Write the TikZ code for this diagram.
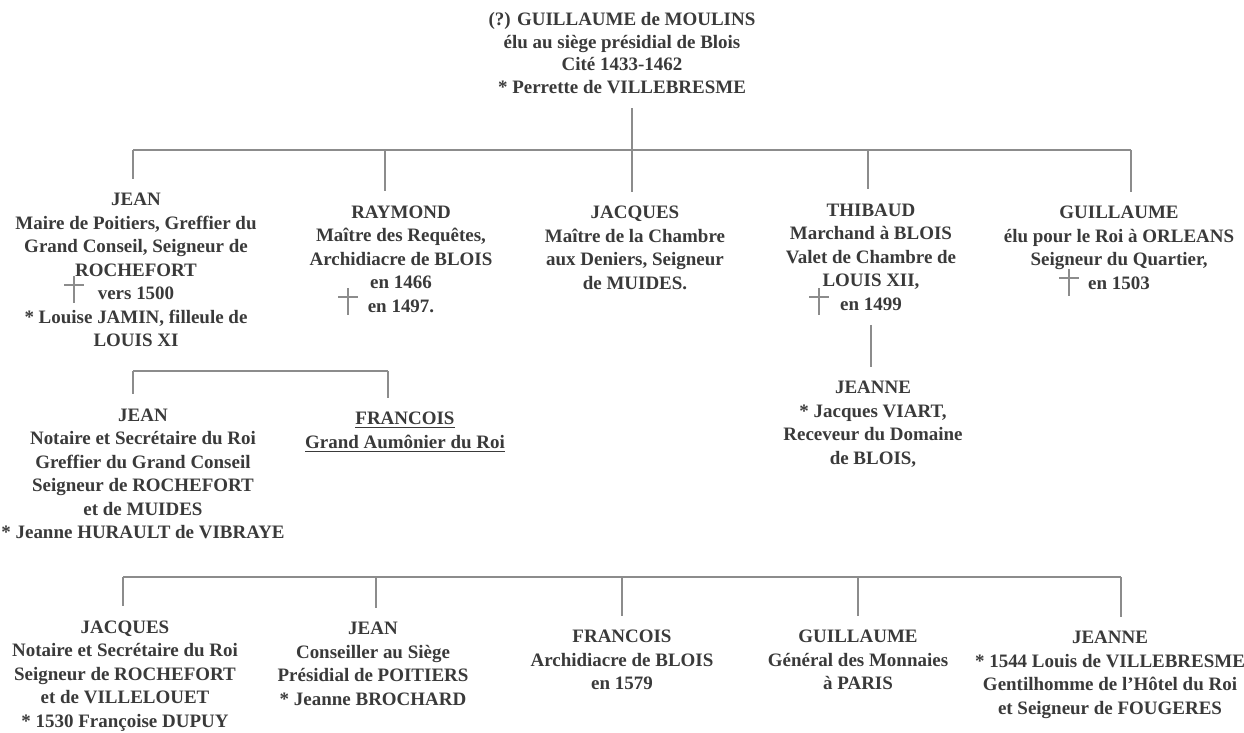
\documentclass[tikz,border=0pt]{standalone}
\usepackage{fontspec}
\setmainfont{Liberation Serif}
\definecolor{encre}{RGB}{58,58,58}
\definecolor{trait}{RGB}{140,140,140}
\tikzset{
  personne/.style={align=center, text=encre, inner xsep=0pt, inner ysep=8pt,
                   font=\bfseries\fontsize{10.8}{13.4}\selectfont},
  lien/.style={draw=trait, line width=0.6pt},
  deces/.pic={\draw[lien] (0,-9) -- (0,18) (-10,0) -- (10,0);}
}

\begin{document}
\begin{tikzpicture}[x=0.02cm, y=-0.02cm]
  \useasboundingbox (0,0) rectangle (1244,733);
  % generation 1
  \node[personne, font=\bfseries\fontsize{10.8}{12.9}\selectfont] (guillaume0) at (622,53)
    {(?) GUILLAUME de MOULINS\\ élu au siège présidial de Blois\\ Cité 1433-1462\\ * Perrette de VILLEBRESME};
  % generation 2
  \node[personne] (jean1) at (136,270)
    {JEAN\\ Maire de Poitiers, Greffier du\\ Grand Conseil, Seigneur de\\ ROCHEFORT\\ vers 1500\\ * Louise JAMIN, filleule de\\ LOUIS XI};
  \node[personne] (raymond) at (401,259)
    {RAYMOND\\ Maître des Requêtes,\\ Archidiacre de BLOIS\\ en 1466\\ en 1497.};
  \node[personne] (jacques1) at (635,248)
    {JACQUES\\ Maître de la Chambre\\ aux Deniers, Seigneur\\ de MUIDES.};
  \node[personne] (thibaud) at (871,257)
    {THIBAUD\\ Marchand à BLOIS\\ Valet de Chambre de\\ LOUIS XII,\\ en 1499};
  \node[personne] (guillaume1) at (1119,248)
    {GUILLAUME\\ élu pour le Roi à ORLEANS\\ Seigneur du Quartier,\\ en 1503};
  \pic at (74,285) {deces};
  \pic at (348,297) {deces};
  \pic at (819,297) {deces};
  \pic at (1069,278) {deces};
  % generation 3
  \node[personne] (jean2) at (143,474)
    {JEAN\\ Notaire et Secrétaire du Roi\\ Greffier du Grand Conseil\\ Seigneur de ROCHEFORT\\ et de MUIDES\\ * Jeanne HURAULT de VIBRAYE};
  \node[personne] (francois1) at (405,432)
    {\underline{FRANCOIS}\\ \underline{Grand Aumônier du Roi}};
  \node[personne] (jeanne1) at (873,424)
    {JEANNE\\ * Jacques VIART,\\ Receveur du Domaine\\ de BLOIS,};
  % generation 4
  \node[personne] (jacques2) at (125,676)
    {JACQUES\\ Notaire et Secrétaire du Roi\\ Seigneur de ROCHEFORT\\ et de VILLELOUET\\ * 1530 Françoise DUPUY};
  \node[personne] (jean3) at (373,664)
    {JEAN\\ Conseiller au Siège\\ Présidial de POITIERS\\ * Jeanne BROCHARD};
  \node[personne] (francois2) at (622,660)
    {FRANCOIS\\ Archidiacre de BLOIS\\ en 1579};
  \node[personne] (guillaume2) at (858,660)
    {GUILLAUME\\ Général des Monnaies\\ à PARIS};
  \node[personne] (jeanne2) at (1110,675)
    {JEANNE\\ * 1544 Louis de VILLEBRESME\\ Gentilhomme de l'Hôtel du Roi\\ et Seigneur de FOUGERES};

  % liens
  \coordinate (a1) at (133,150);
  \coordinate (a2) at (385,150);
  \coordinate (a3) at (632,150);
  \coordinate (a4) at (868,150);
  \coordinate (a5) at (1131,150);
  \draw[lien] (guillaume0.south -| a3) -- (a3);
  \draw[lien] (a1) -- (a5);
  \draw[lien] (a1) -- (a1 |- jean1.north);
  \draw[lien] (a2) -- (a2 |- raymond.north);
  \draw[lien] (a3) -- (a3 |- jacques1.north);
  \draw[lien] (a4) -- (a4 |- thibaud.north);
  \draw[lien] (a5) -- (a5 |- guillaume1.north);
  \draw[lien] (thibaud.south) -- (thibaud.south |- jeanne1.north);

  \coordinate (b1) at (133,371);
  \coordinate (b2) at (388,371);
  \draw[lien] (b1) -- (b2);
  \draw[lien] (b1) -- (b1 |- jean2.north);
  \draw[lien] (b2) -- (b2 |- francois1.north);

  \coordinate (c1) at (123,577);
  \coordinate (c2) at (376,577);
  \coordinate (c3) at (622,577);
  \coordinate (c4) at (858,577);
  \coordinate (c5) at (1121,577);
  \draw[lien] (c1) -- (c5);
  \draw[lien] (c1) -- (c1 |- jacques2.north);
  \draw[lien] (c2) -- (c2 |- jean3.north);
  \draw[lien] (c3) -- (c3 |- francois2.north);
  \draw[lien] (c4) -- (c4 |- guillaume2.north);
  \draw[lien] (c5) -- (c5 |- jeanne2.north);
\end{tikzpicture}
\end{document}
